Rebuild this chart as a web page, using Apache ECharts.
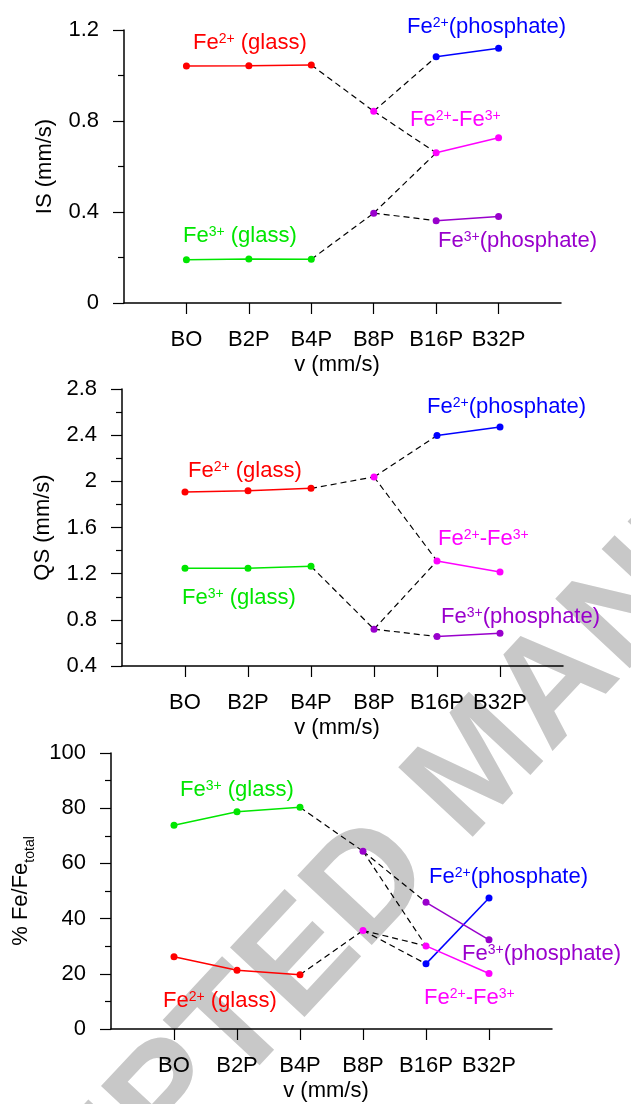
<!DOCTYPE html>
<html>
<head>
<meta charset="utf-8">
<title>IS / QS / Fe fraction</title>
<script src="https://cdn.jsdelivr.net/npm/echarts@6/dist/echarts.min.js"></script>
<style>
  html, body { margin: 0; padding: 0; background: #fff; }
  #chart { width: 631px; height: 1104px; }
</style>
</head>
<body>
<div id="chart"></div>
<script>
const categories = ['BO', 'B2P', 'B4P', 'B8P', 'B16P', 'B32P'];

// isomer shift IS (mm/s)
const isTicks = [0, 0.4, 0.8, 1.2];
const isFe2Glass = [1.042, 1.043, 1.046, null, null, null];
const isFe3Glass = [0.190, 0.193, 0.192, null, null, null];
const isFe2Phos = [null, null, null, null, 1.082, 1.120];
const isMixed = [null, null, null, 0.843, 0.660, 0.726];
const isFe3Phos = [null, null, null, 0.395, 0.362, 0.380];

// quadrupole splitting QS (mm/s)
const qsTicks = [0.4, 0.8, 1.2, 1.6, 2, 2.4, 2.8];
const qsFe2Glass = [1.907, 1.919, 1.939, null, null, null];
const qsFe3Glass = [1.246, 1.246, 1.264, null, null, null];
const qsFe2Phos = [null, null, null, null, 2.397, 2.470];
const qsMixed = [null, null, null, 2.038, 1.310, 1.214];
const qsFe3Phos = [null, null, null, 0.719, 0.655, 0.684];

// % Fe / Fe total
const pctTicks = [0, 20, 40, 60, 80, 100];
const pctFe2Glass = [26.2, 21.3, 19.7, null, null, null];
const pctFe3Glass = [73.8, 78.7, 80.3, null, null, null];
const pctFe2Phos = [null, null, null, null, 23.6, 47.5];
const pctMixed = [null, null, null, 35.7, 30.1, 20.1];
const pctFe3Phos = [null, null, null, 64.4, 45.9, 32.3];

// dashed links: [from series, category index, to series, category index]
const links = [
  ['fe2Glass', 2, 'mixed', 3],
  ['mixed', 3, 'mixed', 4],
  ['mixed', 3, 'fe2Phos', 4],
  ['fe3Glass', 2, 'fe3Phos', 3],
  ['fe3Phos', 3, 'mixed', 4],
  ['fe3Phos', 3, 'fe3Phos', 4]
];

const font = 'Liberation Sans, Arial, Helvetica, sans-serif';
const colors = {
  fe2Glass: '#ff0000',
  fe3Glass: '#00e600',
  fe2Phos: '#0000ff',
  mixed: '#ff00ff',
  fe3Phos: '#9900cc'
};
const labelText = {
  fe2Glass: '{m|Fe}{s|2+}{m| (glass)}',
  fe3Glass: '{m|Fe}{s|3+}{m| (glass)}',
  fe2Phos: '{m|Fe}{s|2+}{m|(phosphate)}',
  mixed: '{m|Fe}{s|2+}{m|-Fe}{s|3+}',
  fe3Phos: '{m|Fe}{s|3+}{m|(phosphate)}'
};

const panels = [
  {
    name: 'IS (mm/s)', ticks: isTicks, nameGap: 68,
    grid: { left: 124, top: 30, width: 437, height: 273 },
    data: { fe2Glass: isFe2Glass, fe3Glass: isFe3Glass, fe2Phos: isFe2Phos, mixed: isMixed, fe3Phos: isFe3Phos },
    labels: { fe2Glass: [193, 43], fe2Phos: [407, 27], mixed: [410, 120], fe3Glass: [183, 236], fe3Phos: [438, 241] }
  },
  {
    name: 'QS (mm/s)', ticks: qsTicks, nameGap: 68,
    grid: { left: 122, top: 389, width: 441, height: 277 },
    data: { fe2Glass: qsFe2Glass, fe3Glass: qsFe3Glass, fe2Phos: qsFe2Phos, mixed: qsMixed, fe3Phos: qsFe3Phos },
    labels: { fe2Phos: [427, 407], fe2Glass: [188, 471], mixed: [438, 539], fe3Glass: [182, 598], fe3Phos: [441, 617] }
  },
  {
    name: '{m|% Fe/Fe}{b|total}', ticks: pctTicks, nameGap: 74,
    grid: { left: 111, top: 753, width: 441, height: 276 },
    data: { fe2Glass: pctFe2Glass, fe3Glass: pctFe3Glass, fe2Phos: pctFe2Phos, mixed: pctMixed, fe3Phos: pctFe3Phos },
    labels: { fe3Glass: [180, 790], fe2Phos: [429, 877], fe3Phos: [462, 954], fe2Glass: [163, 1001], mixed: [424, 998] }
  }
];

const B8P = categories.indexOf('B8P');
const pad = arr => [null].concat(arr, [null]);
const black = { color: '#000', width: 1.5 };

const grid = [], xAxis = [], yAxis = [], series = [], graphic = [];

graphic.push({
  type: 'text', x: 481, y: 768, rotation: 47 * Math.PI / 180, z: -10, silent: true,
  style: {
    text: 'ACCEPTED MANUSCRIPT', font: 'bold 148px ' + font,
    fill: '#c8c8c8', align: 'center', verticalAlign: 'middle'
  }
});

panels.forEach((p, i) => {
  grid.push(Object.assign({ containLabel: false }, p.grid));
  xAxis.push({
    type: 'category', gridIndex: i, boundaryGap: false,
    data: pad(categories).map(c => c || ''),
    axisLine: { lineStyle: black },
    axisTick: {
      length: 11, lineStyle: { color: '#000', width: 1.2 },
      interval: idx => idx > 0 && idx <= categories.length
    },
    axisLabel: { interval: 0, margin: 26, fontSize: 22, color: '#000', fontFamily: font },
    splitLine: { show: false },
    name: 'v (mm/s)', nameLocation: 'middle', nameGap: 51,
    nameTextStyle: { fontSize: 22, color: '#000', fontFamily: font, padding: [0, 11, 0, 0] }
  });
  yAxis.push({
    type: 'value', gridIndex: i,
    min: p.ticks[0], max: p.ticks[p.ticks.length - 1], interval: p.ticks[1] - p.ticks[0],
    axisLine: { show: true, lineStyle: black },
    axisTick: { show: true, length: 11, lineStyle: { color: '#000', width: 1.2 } },
    minorTick: { show: true, splitNumber: 2, length: 6, lineStyle: { color: '#000', width: 1.2 } },
    splitLine: { show: false },
    axisLabel: {
      margin: 25, fontSize: 22, color: '#000', fontFamily: font,
      formatter: v => String(Math.round(v * 10) / 10)
    },
    name: p.name, nameLocation: 'middle', nameGap: p.nameGap,
    nameTextStyle: {
      fontSize: 22, color: '#000', fontFamily: font,
      rich: {
        m: { fontSize: 22, lineHeight: 22, verticalAlign: 'top', color: '#000', fontFamily: font },
        b: { fontSize: 14, lineHeight: 27, verticalAlign: 'bottom', color: '#000', fontFamily: font }
      }
    }
  });

  links.forEach(([a, ia, b, ib]) => {
    const d = categories.map(() => null);
    d[ia] = p.data[a][ia];
    d[ib] = p.data[b][ib];
    series.push({
      type: 'line', xAxisIndex: i, yAxisIndex: i, data: pad(d),
      symbol: 'none', silent: true, z: 2,
      lineStyle: { color: '#000', width: 1.2, type: [6, 4] }
    });
  });

  Object.keys(colors).forEach(key => {
    const vals = p.data[key];
    const color = colors[key];
    series.push({
      type: 'line', xAxisIndex: i, yAxisIndex: i,
      data: pad(vals.map((v, j) => (j === B8P ? null : v))),
      symbol: 'circle', symbolSize: 7, showAllSymbol: true, silent: true, z: 3,
      lineStyle: { color: color, width: 1.5 }, itemStyle: { color: color }
    });
    if (vals[B8P] != null) {
      // lone B8P point: marker only, it joins the others through dashed links
      series.push({
        type: 'line', xAxisIndex: i, yAxisIndex: i,
        data: pad(vals.map((v, j) => (j === B8P ? v : null))),
        symbol: 'circle', symbolSize: 7, showAllSymbol: true, silent: true, z: 3,
        lineStyle: { width: 0 }, itemStyle: { color: color }
      });
    }
    const pos = p.labels[key];
    graphic.push({
      type: 'text', x: pos[0], y: pos[1], silent: true, z: 5,
      style: {
        text: labelText[key], fill: color, align: 'left', verticalAlign: 'middle',
        rich: {
          m: { fontSize: 22, lineHeight: 22, verticalAlign: 'top', fill: color, fontFamily: font },
          s: { fontSize: 14, lineHeight: 18, verticalAlign: 'top', fill: color, fontFamily: font }
        }
      }
    });
  });
});

const chart = echarts.init(document.getElementById('chart'));
chart.setOption({
  animation: false,
  backgroundColor: '#fff',
  grid: grid,
  xAxis: xAxis,
  yAxis: yAxis,
  series: series,
  graphic: graphic
});
</script>
</body>
</html>
